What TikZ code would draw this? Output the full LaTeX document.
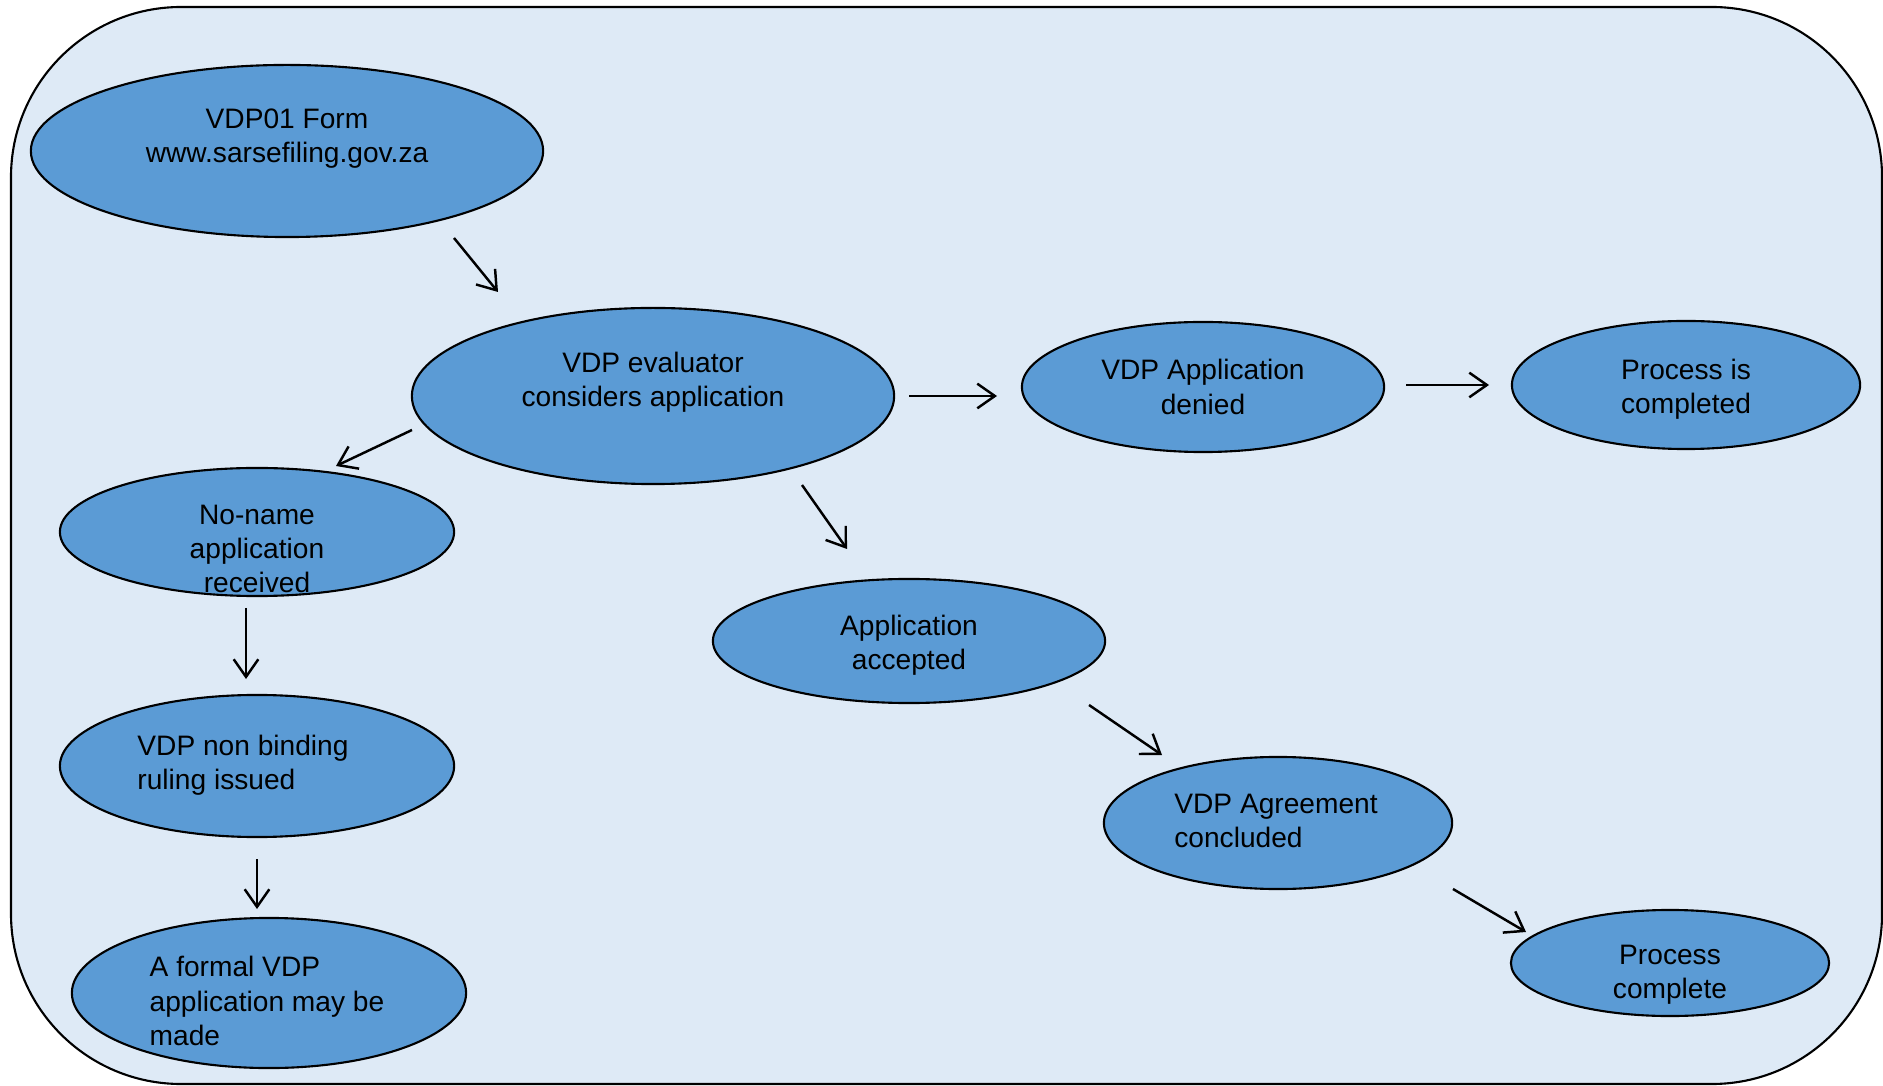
\documentclass[tikz,border=0pt]{standalone}
\usepackage{fontspec}
\setmainfont{Liberation Sans}
\usepackage{tikz}
\usetikzlibrary{shapes,arrows.meta}
\definecolor{framefill}{HTML}{DEEAF6}
\definecolor{statefill}{HTML}{5B9BD5}
\tikzset{
  vdpstate/.style={ellipse, draw, fill=statefill, line width=0.6pt, inner sep=0pt},
  vdptext/.style={font=\fontsize{8pt}{9.7pt}\selectfont, inner sep=0pt},
  vdparrow/.style={line width=0.7pt, -{Straight Barb[length=5pt, width=7pt]}}
}
\newcommand{\vdpnode}[7][align=center]{\node at (#2) (#3) [vdpstate, minimum width=#4, minimum height=#5] {};
  \node at (#6) (#3 text) [vdptext, #1] {#7};}
\newcommand{\vdptransition}[2]{\draw [vdparrow] (#1) -- (#2);}

\begin{document}
\begin{tikzpicture}[x=0.01cm, y=-0.01cm]

\useasboundingbox (0,0) rectangle (1883,1086);
\draw [fill=framefill, line width=0.6pt, rounded corners=1.7cm] (11,7) rectangle (1882,1084);

\vdpnode {287,151}{form}{5.12cm}{1.72cm}{287,139}{VDP01 Form\\www.sarsefiling.gov.za};
\vdpnode {653,396}{evaluator}{4.82cm}{1.76cm}{653,382}{VDP evaluator\\considers application};
\vdpnode {1203,387}{denied}{3.62cm}{1.30cm}{1203,387}{VDP Application\\denied};
\vdpnode {1686,385}{completed}{3.48cm}{1.28cm}{1686,389}{Process is\\completed};
\vdpnode {257,532}{noname}{3.94cm}{1.28cm}{257,549}{No-name\\application\\received};
\vdpnode [align=left]{257,766}{ruling}{3.94cm}{1.42cm}{243,765}{VDP non binding\\ruling issued};
\vdpnode [align=left]{269,993}{formal}{3.94cm}{1.50cm}{267,1001}{A formal VDP\\application may be\\made};
\vdpnode {909,641}{accepted}{3.92cm}{1.24cm}{909,645}{Application\\accepted};
\vdpnode [align=left]{1278,823}{agreement}{3.48cm}{1.32cm}{1276,821}{VDP Agreement\\concluded};
\vdpnode {1670,963}{complete}{3.18cm}{1.06cm}{1670,975}{Process\\complete};

\coordinate (form out) at (454,238);
\coordinate (evaluator in) at (498,292);
\coordinate (evaluator left) at (412,430);
\coordinate (noname in) at (336,466);
\coordinate (evaluator right) at (909,396);
\coordinate (denied in) at (997,396);
\coordinate (denied out) at (1406,385);
\coordinate (completed in) at (1489,385);
\coordinate (evaluator down) at (802,485);
\coordinate (accepted in) at (847,549);
\coordinate (noname out) at (246,608);
\coordinate (ruling in) at (246,679);
\coordinate (ruling out) at (257,859);
\coordinate (formal in) at (257,909);
\coordinate (accepted out) at (1089,705);
\coordinate (agreement in) at (1162,755);
\coordinate (agreement out) at (1453,889);
\coordinate (complete in) at (1526,932);

\vdptransition{form out}{evaluator in};
\vdptransition{evaluator left}{noname in};
\vdptransition{evaluator right}{denied in};
\vdptransition{denied out}{completed in};
\vdptransition{evaluator down}{accepted in};
\vdptransition{noname out}{ruling in};
\vdptransition{ruling out}{formal in};
\vdptransition{accepted out}{agreement in};
\vdptransition{agreement out}{complete in};

\end{tikzpicture}
\end{document}
